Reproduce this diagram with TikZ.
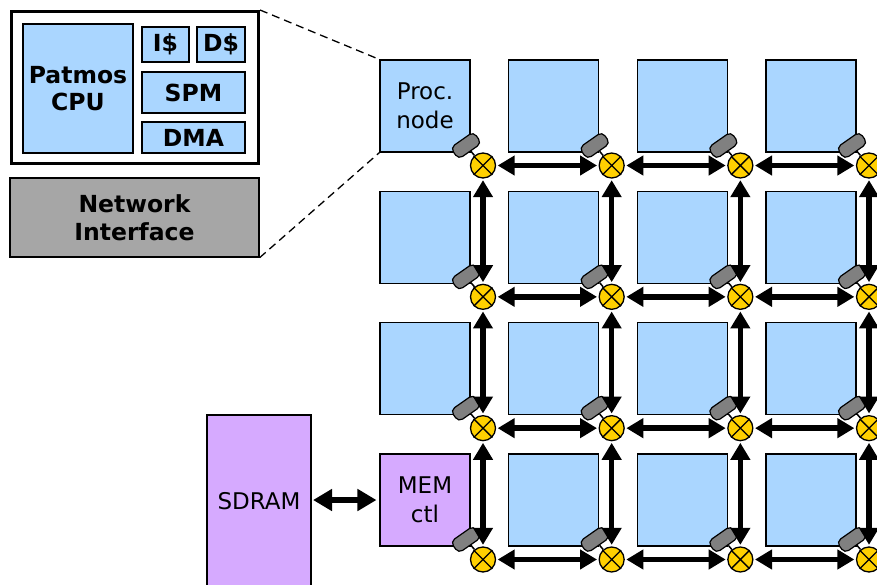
\documentclass[tikz,border=0pt]{standalone}
\usepackage{fontspec}
\setmainfont{DejaVu Sans}
\usetikzlibrary{arrows.meta}
\definecolor{peblue}{RGB}{170,214,255}
\definecolor{mempurple}{RGB}{214,170,255}
\definecolor{nigray}{RGB}{166,166,166}
\definecolor{pillgray}{RGB}{128,128,128}
\definecolor{routeryellow}{RGB}{255,208,0}
\begin{document}
\begin{tikzpicture}[x=1pt,y=-1pt,
  txt/.style={font=\fontsize{23}{29}\selectfont, align=center},
  btxt/.style={font=\fontsize{23.5}{27.5}\selectfont\bfseries, align=center},
  pe/.style={draw, line width=1.1pt, fill=peblue, minimum width=90pt, minimum height=92pt, inner sep=0pt, txt},
  sub/.style={draw, line width=1.1pt, fill=peblue, inner sep=0pt, btxt},
  router/.style={circle, draw, line width=1.3pt, fill=routeryellow, minimum size=25pt, inner sep=0pt},
  pill/.style={draw, line width=1.2pt, fill=pillgray, rounded corners=5pt, minimum width=28pt, minimum height=14pt, inner sep=0pt, rotate=35},
  link/.style={line width=5.5pt, {Triangle[length=17pt,width=19pt]}-{Triangle[length=17pt,width=19pt]}, shorten >=1.5pt, shorten <=1.5pt},
  memlink/.style={line width=5.5pt, {Triangle[length=19pt,width=21pt]}-{Triangle[length=19pt,width=21pt]}, shorten >=3pt, shorten <=1.5pt},
  zoomline/.style={line width=1.3pt, dash pattern=on 8pt off 5pt}
]
\useasboundingbox (0,0) rectangle (877,584);
\clip (0,0) rectangle (877,584);

% processor tile detail
\node[draw, line width=3pt, fill=white, minimum width=247pt, minimum height=152pt, inner sep=0pt] (tile) at (135,87.5) {};
\node[sub, minimum width=110pt, minimum height=129pt] (cpu) at (78,88.5) {Patmos\\CPU};
\node[sub, minimum width=47pt, minimum height=35pt] (icache) at (165.5,44.5) {I\$};
\node[sub, minimum width=48pt, minimum height=35pt] (dcache) at (221,44.5) {D\$};
\node[sub, minimum width=103pt, minimum height=41pt] (spm) at (193.5,92.5) {SPM};
\node[sub, minimum width=103pt, minimum height=31pt] (dma) at (193.5,137.5) {DMA};
\node[draw, line width=1.3pt, fill=nigray, minimum width=249pt, minimum height=79pt, inner sep=0pt, btxt] (ni) at (134.5,217.5) {Network\\Interface};

% processing nodes
\node[pe] (n-0-0) at (425,106) {Proc.\\node};
\foreach \i/\j in {1/0,2/0,3/0,0/1,1/1,2/1,3/1,0/2,1/2,2/2,3/2,1/3,2/3,3/3}
  \node[pe] (n-\i-\j) at ({425+128.67*\i},{106+131.33*\j}) {};
\node[pe, fill=mempurple] (n-0-3) at (425,500) {MEM\\ctl};

% zoom lines
\draw[zoomline] (tile.north east) -- (n-0-0.north west);
\draw[zoomline] (ni.south east) -- (n-0-0.south west);

% SDRAM
\node[draw, line width=1.1pt, fill=mempurple, minimum width=104pt, minimum height=172pt, inner sep=0pt, txt] (sdram) at (259,501) {SDRAM};
\draw[memlink] (sdram.east |- n-0-3.west) -- (n-0-3.west);

% routers and network interfaces
\foreach \i in {0,...,3}{
  \foreach \j in {0,...,3}{
    \node[router] (r-\i-\j) at ({483+128.67*\i},{165.5+131.33*\j}) {};
    \draw[line width=1.3pt] (r-\i-\j.north east) -- (r-\i-\j.south west)
                            (r-\i-\j.north west) -- (r-\i-\j.south east);
    \node[pill] (p-\i-\j) at ({466+128.67*\i},{145.5+131.33*\j}) {};
    \draw[line width=1.5pt] (p-\i-\j) -- (r-\i-\j);
  }
}

% links
\foreach \i [evaluate=\i as \ni using int(\i+1)] in {0,1,2}{
  \foreach \j in {0,...,3}{
    \draw[link] (r-\i-\j) -- (r-\ni-\j);
  }
}
\foreach \j [evaluate=\j as \nj using int(\j+1)] in {0,1,2}{
  \foreach \i in {0,...,3}{
    \draw[link] (r-\i-\j) -- (r-\i-\nj);
  }
}
\end{tikzpicture}
\end{document}
